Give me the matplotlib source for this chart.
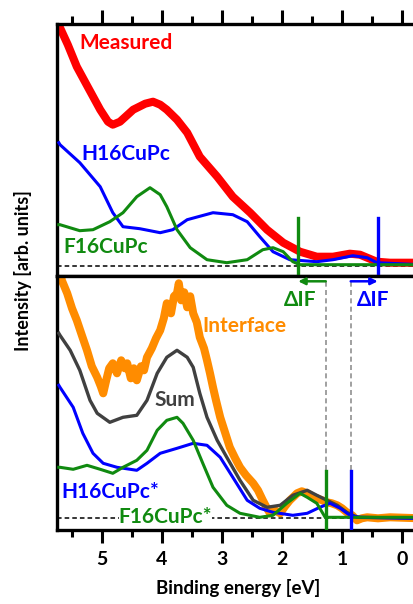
import matplotlib
matplotlib.use("Agg")
import matplotlib.pyplot as plt
from matplotlib.ticker import MultipleLocator

plt.rcParams['font.family'] = ['Lato', 'DejaVu Sans']
plt.rcParams['font.weight'] = 'bold'

# ---- top panel (film) ----
meas_e = [5.75, 5.70, 5.57, 5.42, 5.23, 5.03, 4.90, 4.82, 4.70, 4.48, 4.28, 4.15, 4.03, 3.92, 3.75,
          3.58, 3.37, 3.08, 2.82, 2.53, 2.25, 1.98, 1.70, 1.42, 1.15, 0.87, 0.70, 0.42, 0.20, -0.30]
meas_i = [242, 238, 221, 199, 178, 156, 144, 141, 144, 156, 162, 164, 161, 156, 146,
          133, 109, 89, 69, 53, 36, 23, 14, 9, 9, 12, 11, 4, 3, 3]

h16_e = [5.72, 5.70, 5.37, 5.03, 4.82, 4.65, 4.37, 4.03, 3.82, 3.58, 3.15, 2.82, 2.58, 2.37,
         2.15, 1.87, 1.42, 1.15, 0.82, 0.58, 0.42, -0.30]
h16_i = [123, 121, 103, 79, 53, 39, 37, 33, 36, 46, 53, 51, 44, 29,
         14, 6, 4, 6, 10, 8, 3, 1]

f16_e = [5.72, 5.70, 5.37, 5.15, 4.87, 4.65, 4.42, 4.20, 4.03, 3.92, 3.75, 3.53, 3.25, 2.92,
         2.58, 2.32, 2.15, 1.98, 1.82, 1.70, -0.30]
f16_i = [41, 41, 35, 36, 44, 53, 69, 78, 71, 59, 36, 18, 6, 3,
         6, 16, 18, 14, 4, 1, 1]

# ---- bottom panel (interface) ----
intf_e = [5.70, 5.67, 5.58, 5.50, 5.42, 5.33, 5.25, 5.17, 5.08, 5.02, 4.98, 4.93, 4.88, 4.82, 4.75,
          4.68, 4.62, 4.58, 4.52, 4.47, 4.42, 4.35, 4.30, 4.25, 4.17, 4.10, 4.03, 3.97, 3.92, 3.85,
          3.80, 3.75, 3.72, 3.68, 3.63, 3.58, 3.53, 3.48, 3.42, 3.37, 3.30, 3.25, 3.20, 3.15, 3.10,
          3.03, 2.95, 2.87, 2.78, 2.70, 2.60, 2.48, 2.40, 2.32, 2.25, 2.20, 2.12, 2.03, 1.95, 1.87,
          1.80, 1.75, 1.67, 1.58, 1.50, 1.42, 1.33, 1.25, 1.17, 1.08, 1.00, 0.92, 0.83, 0.75, 0.67,
          0.58, 0.40, 0.20, -0.30]
intf_i = [250, 238, 225, 210, 198, 182, 168, 152, 141, 132, 125, 138, 150, 155, 145,
          158, 150, 155, 140, 150, 138, 152, 148, 161, 170, 180, 188, 200, 215, 205,
          222, 225, 235, 218, 226, 211, 222, 205, 196, 181, 170, 158, 145, 131, 118,
          101, 86, 71, 60, 51, 43, 35, 28, 18, 10, 5, 8, 5, 12, 18,
          22, 25, 27, 25, 22, 20, 18, 16, 15, 13, 10, 6, 3, -2, 0,
          1, 0, 1, 0]

sum_e = [5.72, 5.70, 5.53, 5.37, 5.20, 5.08, 4.87, 4.65, 4.42, 4.25, 4.08, 3.92, 3.75, 3.58,
         3.48, 3.37, 3.25, 3.08, 2.92, 2.70, 2.48, 2.25, 2.03, 1.82, 1.58, 1.42, 1.25, 1.08,
         0.92, 0.75, -0.30]
sum_i = [185, 183, 168, 148, 118, 105, 96, 101, 103, 118, 145, 161, 168, 161,
         151, 125, 101, 78, 61, 38, 18, 11, 13, 23, 28, 23, 18, 13,
         6, 1, 0]

h16s_e = [5.72, 5.70, 5.48, 5.32, 5.15, 4.98, 4.75, 4.42, 4.25, 4.03, 3.75, 3.48, 3.25, 3.03,
          2.82, 2.58, 2.37, 2.15, 1.82, 1.58, 1.37, 1.20, 1.03, 0.87, 0.70, -0.30]
h16s_i = [133, 131, 111, 85, 65, 55, 51, 48, 55, 65, 70, 75, 73, 61,
          41, 18, 10, 6, 3, 5, 11, 15, 10, 3, 1, 0]

f16s_e = [5.72, 5.70, 5.48, 5.25, 5.03, 4.82, 4.65, 4.42, 4.25, 4.08, 3.92, 3.75, 3.65, 3.48,
          3.32, 3.15, 2.92, 2.70, 2.37, 2.15, 1.92, 1.70, 1.58, 1.42, 1.28, -0.30]
f16s_i = [51, 51, 49, 53, 49, 45, 51, 58, 68, 88, 98, 101, 95, 78,
          55, 31, 13, 5, 1, 3, 15, 25, 21, 15, 1, 1]

# onset markers and interface shift
onset_top = {'F16': 1.73, 'H16': 0.405}
onset_bot = {'F16': 1.27, 'H16': 0.855}
tick_labels = ['0', '1', '2', '3', '4', '5']

RED = '#ff0000'
BLUE = '#0000ff'
GREEN = '#108a10'
ORANGE = '#ff8c00'
GRAY = '#404040'

fig = plt.figure(figsize=(4.14, 6.04), dpi=100)
W = 363 / 414
ax1 = fig.add_axes([57 / 414, 1 - 276 / 604, W, 252 / 604])
ax2 = fig.add_axes([57 / 414, 1 - 530 / 604, W, 254 / 604])

for ax in (ax1, ax2):
    ax.set_xlim(5.75, -0.3)
    ax.set_yticks([])
    ax.spines['right'].set_visible(False)
    for s in ax.spines.values():
        s.set_linewidth(2.4)
    ax.xaxis.set_major_locator(MultipleLocator(1))
    ax.xaxis.set_minor_locator(MultipleLocator(0.5))
    ax.axhline(0, color='black', ls='--', lw=1.1, dashes=(3, 2), zorder=1)

ax1.set_ylim(-10.3, 241.7)
ax2.set_ylim(-11.7, 242.3)

ax1.tick_params(axis='x', which='both', top=True, bottom=False, labelbottom=False,
                direction='out', width=2.2)
ax1.tick_params(axis='x', which='major', length=10)
ax1.tick_params(axis='x', which='minor', length=6)
ax2.tick_params(axis='x', which='both', top=False, bottom=True, direction='out', width=2.2)
ax2.tick_params(axis='x', which='major', length=9, pad=6, labelsize=14)
ax2.tick_params(axis='x', which='minor', length=5)
ax2.set_xticks([0, 1, 2, 3, 4, 5])
ax2.set_xticklabels(tick_labels, fontweight='bold')

# top curves
ax1.plot(meas_e, meas_i, color=RED, lw=5.8, zorder=2)
ax1.plot(h16_e, h16_i, color=BLUE, lw=2.2, zorder=3)
ax1.plot(f16_e, f16_i, color=GREEN, lw=2.2, zorder=4)
ax1.plot([onset_top['F16']] * 2, [48, -10.3], color=GREEN, lw=2.4, zorder=5)
ax1.plot([onset_top['H16']] * 2, [48, -10.3], color=BLUE, lw=2.4, zorder=5)

fs = 15
ax1.text(5.38, 222.7, 'Measured', color=RED, fontsize=fs, fontweight='bold', va='center')
ax1.text(5.35, 111.7, 'H16CuPc', color=BLUE, fontsize=fs, fontweight='bold', va='center')
ax1.text(5.65, 18.7, 'F16CuPc', color=GREEN, fontsize=fs, fontweight='bold', va='center')

# bottom curves
ax2.plot(intf_e, intf_i, color=ORANGE, lw=5.8, zorder=2)
ax2.plot(sum_e, sum_i, color=GRAY, lw=2.4, zorder=3)
ax2.plot(h16s_e, h16s_i, color=BLUE, lw=2.2, zorder=4)
ax2.plot(f16s_e, f16s_i, color=GREEN, lw=2.2, zorder=5)
ax2.plot([onset_bot['F16']] * 2, [47, -11.7], color=GREEN, lw=2.4, zorder=6)
ax2.plot([onset_bot['H16']] * 2, [47, -11.7], color=BLUE, lw=2.4, zorder=6)

# dashed guides and shift arrows
for e in (onset_bot['F16'], onset_bot['H16']):
    ax2.plot([e, e], [48, 238], color='#909090', ls='--', lw=1.2, dashes=(3, 2), zorder=1)
ax2.annotate('', xy=(onset_top['F16'], 237), xytext=(onset_bot['F16'], 237),
             arrowprops=dict(arrowstyle='-|>', color=GREEN, lw=1.8, mutation_scale=10,
                             shrinkA=0, shrinkB=0))
ax2.annotate('', xy=(onset_top['H16'], 237), xytext=(onset_bot['H16'], 237),
             arrowprops=dict(arrowstyle='-|>', color=BLUE, lw=1.8, mutation_scale=10,
                             shrinkA=0, shrinkB=0))
ax2.text(1.70, 218, 'ΔIF', color=GREEN, fontsize=fs, fontweight='bold', va='center', ha='center')
ax2.text(0.48, 218, 'ΔIF', color=BLUE, fontsize=fs, fontweight='bold', va='center', ha='center')

ax2.text(3.32, 192, 'Interface', color=ORANGE, fontsize=fs, fontweight='bold', va='center')
ax2.text(4.13, 118, 'Sum', color=GRAY, fontsize=fs, fontweight='bold', va='center')
ax2.text(5.68, 26, 'H16CuPc*', color=BLUE, fontsize=fs, fontweight='bold', va='center')
ax2.text(4.72, 1, 'F16CuPc*', color=GREEN, fontsize=fs, fontweight='bold', va='center',
         bbox=dict(facecolor='white', edgecolor='none', pad=0), zorder=7)

ax2.set_xlabel('Binding energy [eV]', fontsize=13.5, fontweight='bold', labelpad=8)
fig.text(23 / 414, 1 - 271 / 604, 'Intensity [arb. units]', rotation=90, fontsize=13,
         fontweight='bold', ha='center', va='center')

fig.savefig('out.png', dpi=100)
